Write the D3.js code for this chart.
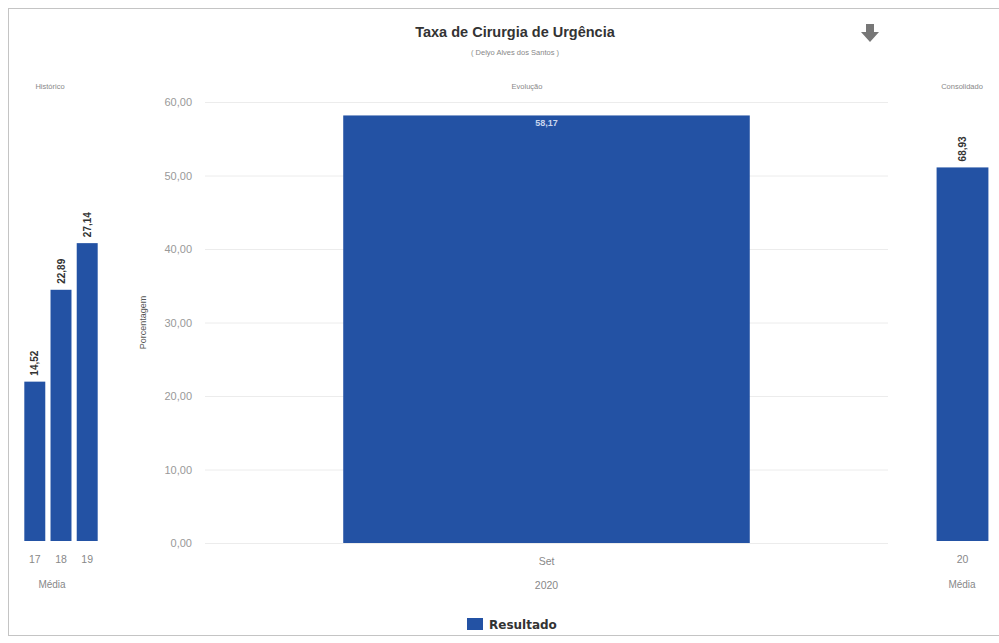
<!DOCTYPE html>
<html>
<head>
<meta charset="utf-8">
<script src="https://cdn.jsdelivr.net/npm/d3@7"></script>
<style>
  body { margin: 0; background: #fff; }
  svg { display: block; font-family: "Liberation Sans", Arial, sans-serif; }
</style>
</head>
<body>
<div id="chart"></div>
<script>
// --- data ---
const histYears = ["17", "18", "19"];
const histValues = [14.52, 22.89, 27.14];
const evoMonths = ["Set"];
const evoValues = [58.17];
const evoYear = "2020";
const consYears = ["20"];
const consValues = [68.93];
const mainTicks = [0, 10, 20, 30, 40, 50, 60];

const width = 999, height = 643;
const barColor = "#2352a4";
const fmt = v => d3.format(".2f")(v).replace(".", ",");

const svg = d3.select("#chart").append("svg")
    .attr("width", width)
    .attr("height", height);

// outer frame
svg.append("rect")
    .attr("x", 8.5).attr("y", 8.5)
    .attr("width", 995).attr("height", 627)
    .attr("fill", "none")
    .attr("stroke", "#c4c4c4");

// titles
svg.append("text")
    .attr("x", 515).attr("y", 37)
    .attr("text-anchor", "middle")
    .attr("font-size", 14.5).attr("font-weight", "bold")
    .attr("fill", "#333")
    .text("Taxa de Cirurgia de Urgência");

svg.append("text")
    .attr("x", 515).attr("y", 55)
    .attr("text-anchor", "middle")
    .attr("font-size", 7.5).attr("fill", "#888")
    .text("( Delyo Alves dos Santos )");

// download arrow icon
svg.append("path")
    .attr("d", "M866,24 h8 v8 h5 l-9,10 l-9,-10 h5 z")
    .attr("fill", "#777");

const plotTop = 102, plotBottom = 541;

// --- Histórico panel ---
const hx = d3.scaleBand().domain(histYears).range([23, 99]).paddingInner(0.2).paddingOuter(0.05);
const hy = d3.scaleLinear().domain([0, 40]).range([plotBottom, plotTop]);

const hist = svg.append("g");
hist.append("text")
    .attr("x", 50).attr("y", 89)
    .attr("text-anchor", "middle")
    .attr("font-size", 7.5).attr("fill", "#888")
    .text("Histórico");

hist.selectAll("rect")
    .data(histValues)
    .join("rect")
    .attr("x", (d, i) => hx(histYears[i]))
    .attr("y", d => hy(d))
    .attr("width", hx.bandwidth())
    .attr("height", d => hy(0) - hy(d))
    .attr("fill", barColor);

hist.selectAll(".lbl")
    .data(histValues)
    .join("text")
    .attr("class", "lbl")
    .attr("transform", (d, i) => `translate(${hx(histYears[i]) + hx.bandwidth() / 2 + 3.5},${hy(d) - 6}) rotate(-90)`)
    .attr("font-size", 10).attr("font-weight", "bold")
    .attr("fill", "#333")
    .text(d => fmt(d));

hist.append("g")
    .attr("transform", `translate(0,${plotBottom})`)
    .call(d3.axisBottom(hx).tickSize(0).tickPadding(15))
    .call(g => g.select(".domain").remove())
    .call(g => g.selectAll("text").attr("font-size", 10.5).attr("fill", "#888").attr("font-family", null));

hist.append("text")
    .attr("x", 52).attr("y", 588)
    .attr("text-anchor", "middle")
    .attr("font-size", 10).attr("fill", "#888")
    .text("Média");

// --- Evolução panel ---
const ex = d3.scaleBand().domain(evoMonths).range([205, 888]).paddingInner(0).paddingOuter(0.34);
const ey = d3.scaleLinear().domain([0, 60]).range([543, plotTop]);

const evo = svg.append("g");
evo.append("text")
    .attr("x", 527).attr("y", 89)
    .attr("text-anchor", "middle")
    .attr("font-size", 7.5).attr("fill", "#888")
    .text("Evolução");

// gridlines
evo.append("g")
    .selectAll("line")
    .data(mainTicks)
    .join("line")
    .attr("x1", 205).attr("x2", 888)
    .attr("y1", d => ey(d) + 0.5).attr("y2", d => ey(d) + 0.5)
    .attr("stroke", "#ececec");

evo.append("g")
    .attr("transform", "translate(192,0)")
    .call(d3.axisLeft(ey).tickValues(mainTicks).tickFormat(fmt).tickSize(0).tickPadding(0))
    .call(g => g.select(".domain").remove())
    .call(g => g.selectAll("text").attr("font-size", 11).attr("fill", "#999").attr("font-family", null));

evo.append("text")
    .attr("transform", `translate(146,${(plotTop + 543) / 2}) rotate(-90)`)
    .attr("text-anchor", "middle")
    .attr("font-size", 9).attr("fill", "#555")
    .text("Porcentagem");

evo.selectAll("rect.bar")
    .data(evoValues)
    .join("rect")
    .attr("class", "bar")
    .attr("x", (d, i) => ex(evoMonths[i]))
    .attr("y", d => ey(d))
    .attr("width", ex.bandwidth())
    .attr("height", d => ey(0) - ey(d))
    .attr("fill", barColor);

evo.selectAll(".lbl")
    .data(evoValues)
    .join("text")
    .attr("class", "lbl")
    .attr("x", (d, i) => ex(evoMonths[i]) + ex.bandwidth() / 2)
    .attr("y", d => ey(d) + 11)
    .attr("text-anchor", "middle")
    .attr("font-size", 9).attr("font-weight", "bold")
    .attr("fill", "#c9d6ee")
    .text(d => fmt(d));

evo.append("g")
    .attr("transform", "translate(0,543)")
    .call(d3.axisBottom(ex).tickSize(0).tickPadding(15))
    .call(g => g.select(".domain").remove())
    .call(g => g.selectAll("text").attr("font-size", 10.5).attr("fill", "#888").attr("font-family", null));

evo.append("text")
    .attr("x", ex(evoMonths[0]) + ex.bandwidth() / 2).attr("y", 589)
    .attr("text-anchor", "middle")
    .attr("font-size", 10.5).attr("fill", "#888")
    .text(evoYear);

// --- Consolidado panel ---
const cx = d3.scaleBand().domain(consYears).range([934, 991]).paddingOuter(0.05);
const cy = d3.scaleLinear().domain([0, 81]).range([plotBottom, plotTop]);

const cons = svg.append("g");
cons.append("text")
    .attr("x", 962).attr("y", 89)
    .attr("text-anchor", "middle")
    .attr("font-size", 7.5).attr("fill", "#888")
    .text("Consolidado");

cons.selectAll("rect")
    .data(consValues)
    .join("rect")
    .attr("x", (d, i) => cx(consYears[i]))
    .attr("y", d => cy(d))
    .attr("width", cx.bandwidth())
    .attr("height", d => cy(0) - cy(d))
    .attr("fill", barColor);

cons.selectAll(".lbl")
    .data(consValues)
    .join("text")
    .attr("class", "lbl")
    .attr("transform", (d, i) => `translate(${cx(consYears[i]) + cx.bandwidth() / 2 + 3.5},${cy(d) - 6}) rotate(-90)`)
    .attr("font-size", 10).attr("font-weight", "bold")
    .attr("fill", "#333")
    .text(d => fmt(d));

cons.append("g")
    .attr("transform", `translate(0,${plotBottom})`)
    .call(d3.axisBottom(cx).tickSize(0).tickPadding(15))
    .call(g => g.select(".domain").remove())
    .call(g => g.selectAll("text").attr("font-size", 10.5).attr("fill", "#888").attr("font-family", null));

cons.append("text")
    .attr("x", 962).attr("y", 588)
    .attr("text-anchor", "middle")
    .attr("font-size", 10).attr("fill", "#888")
    .text("Média");

// --- legend ---
const legend = svg.append("g");
legend.append("rect")
    .attr("x", 467).attr("y", 618)
    .attr("width", 16).attr("height", 12)
    .attr("fill", barColor);
legend.append("text")
    .attr("x", 489).attr("y", 629)
    .attr("font-size", 12).attr("font-weight", "bold")
    .attr("font-family", "'DejaVu Sans', sans-serif")
    .attr("fill", "#333")
    .text("Resultado");
</script>
</body>
</html>
